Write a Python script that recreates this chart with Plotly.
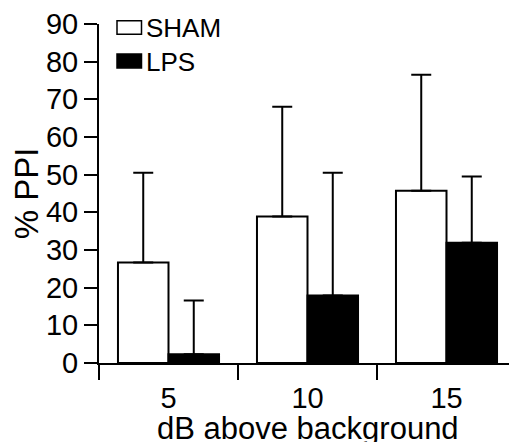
import plotly.graph_objects as go

categories = ["5", "10", "15"]
sham_mean = [26.7, 38.9, 45.7]
sham_sd = [23.8, 29.1, 30.8]
lps_mean = [2.3, 17.9, 31.9]
lps_sd = [14.3, 32.6, 17.6]
series_names = ["SHAM", "LPS"]
y_ticks = [0, 10, 20, 30, 40, 50, 60, 70, 80, 90]
x_title = "dB above background"
y_title = "% PPI"

FONT = "Liberation Sans, Arial, sans-serif"

fig = go.Figure()
fig.add_trace(go.Bar(
    x=categories, y=sham_mean, name=series_names[0],
    marker=dict(color="white", line=dict(color="black", width=2)),
    error_y=dict(type="data", array=sham_sd, arrayminus=[0]*3, symmetric=False,
                 thickness=2, width=10, color="black"),
))
fig.add_trace(go.Bar(
    x=categories, y=lps_mean, name=series_names[1],
    marker=dict(color="black", line=dict(color="black", width=2)),
    error_y=dict(type="data", array=lps_sd, arrayminus=[0]*3, symmetric=False,
                 thickness=2, width=10, color="black"),
))

OFF = 8  # page body margin
W, H = 517 - OFF, 442 - OFF
L, T = 99 - OFF, 24 - OFF
R = W - (516 - OFF)
B = H - (363.3 - OFF)
pw, ph = W - L - R, H - T - B

def px_x(p):
    return (p - OFF - L) / pw

def px_y(p):
    return (H - B - (p - OFF)) / ph

shapes = [
    dict(type="rect", xref="paper", yref="paper",
         x0=px_x(117), x1=px_x(141.5), y0=px_y(34.3), y1=px_y(20.7),
         fillcolor="white", line=dict(color="black", width=1.5)),
    dict(type="rect", xref="paper", yref="paper",
         x0=px_x(117), x1=px_x(141.5), y0=px_y(68), y1=px_y(54),
         fillcolor="black", line=dict(color="black", width=1.5)),
]
annotations = [
    dict(text=series_names[0], xref="paper", yref="paper", x=px_x(144), y=px_y(28),
         xanchor="left", yanchor="middle", showarrow=False,
         font=dict(family=FONT, size=26, color="black")),
    dict(text=series_names[1], xref="paper", yref="paper", x=px_x(144), y=px_y(62.5),
         xanchor="left", yanchor="middle", showarrow=False,
         font=dict(family=FONT, size=26, color="black")),
    dict(text=x_title, xref="paper", yref="paper", x=0.5, y=px_y(428.5),
         xanchor="center", yanchor="middle", showarrow=False,
         font=dict(family=FONT, size=31, color="black")),
]

fig.update_layout(
    width=W, height=H,
    margin=dict(l=L, r=R, t=T, b=B, autoexpand=False),
    paper_bgcolor="white", plot_bgcolor="white",
    barmode="group", bargap=0.273, bargroupgap=0,
    showlegend=False,
    shapes=shapes, annotations=annotations,
    font=dict(family=FONT, color="black"),
)
fig.update_xaxes(
    type="category", categoryorder="array", categoryarray=categories,
    tickson="boundaries", ticks="outside", ticklen=15, tickwidth=2, tickcolor="black",
    showline=True, linewidth=2, linecolor="black", showgrid=False, zeroline=False,
    tickfont=dict(family=FONT, size=29, color="black"),
    ticklabelstandoff=8,
    automargin=False,
)
fig.update_yaxes(
    range=[0, 90], tickvals=y_ticks, ticks="outside", ticklen=13, tickwidth=2,
    tickcolor="black", showline=True, linewidth=2, linecolor="black",
    showgrid=False, zeroline=False,
    tickfont=dict(family=FONT, size=29, color="black"),
    title=dict(text=y_title, font=dict(family=FONT, size=33, color="black"), standoff=10),
    automargin=False,
)

fig.write_html("out.html")
